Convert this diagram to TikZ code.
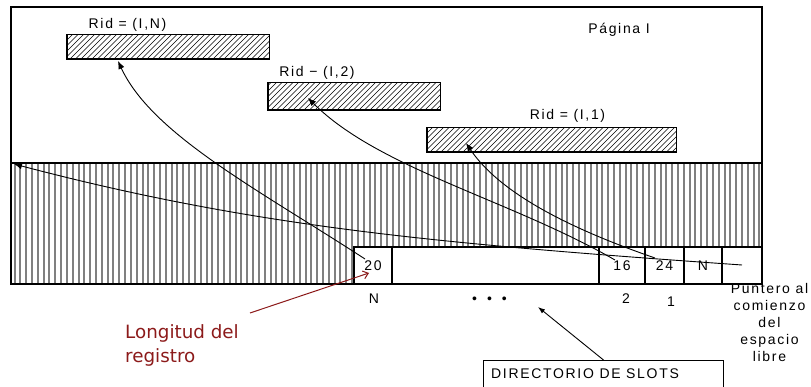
\documentclass[tikz,border=0pt]{standalone}
\usepackage{fontspec}
\usetikzlibrary{arrows.meta,calc}
\newfontfamily\lsf{Liberation Sans}[LetterSpace=12]
\newfontfamily\redf{DejaVu Sans}
\definecolor{regred}{RGB}{140,26,26}
\definecolor{hatchgray}{RGB}{128,128,128}
\tikzset{
  frame/.style={line width=2pt},
  ridbox/.style={draw, line width=1pt, inner sep=0pt},
  slotbox/.style={draw, line width=2pt, fill=white, inner sep=0pt, minimum height=37pt,
    font=\lsf\fontsize{14}{17}\selectfont},
  lbl/.style={inner sep=0pt, font=\lsf\fontsize{14}{17}\selectfont},
  redlbl/.style={inner sep=0pt, text=regred, align=left, font=\redf\fontsize{18.3}{24}\selectfont},
  link/.style={line width=0.9pt, -{Latex[length=8pt,width=6.5pt]}},
  redlink/.style={line width=1pt, draw=regred, -{Straight Barb[length=5pt,width=8pt]}},
  dirlink/.style={line width=0.9pt, -{Latex[length=7pt,width=5pt]}},
}
\begin{document}
\begin{tikzpicture}[x=1pt, y=-1pt]
\useasboundingbox (0,0) rectangle (811,387);

% vertically hatched body of the page
\foreach \i in {0,...,128} {
  \draw[hatchgray, line width=2pt] ({14.5+5.82*\i},163) -- ({14.5+5.82*\i},284);
}

% page frame and header separator
\draw[frame] (11,7) rectangle (762,284);
\draw[frame] (11,163) -- (762,163);

% records
\node[ridbox, minimum width=202pt, minimum height=24pt] (ridN) at (168,47) {};
\node[ridbox, minimum width=172pt, minimum height=27pt] (rid2) at (354,96.5) {};
\node[ridbox, minimum width=249pt, minimum height=24pt] (rid1) at (551.5,140) {};
\foreach \r in {ridN,rid2,rid1} {
  \begin{scope}
    \clip (\r.south west) rectangle (\r.north east);
    \foreach \k in {0,...,60} {
      \draw[line width=0.6pt] ($(\r.south west)+({5.5*\k-30},0)$) -- ++(30,-30);
    }
  \end{scope}
  \draw[line width=1pt] (\r.south west) rectangle (\r.north east);
}

\node[lbl, anchor=base] (lN) at (127.5,29) {Rid = (I,N)};
\node[lbl, anchor=base] (l2) at (317,76.5) {Rid − (I,2)};
\node[lbl, anchor=base] (l1) at (567.5,120) {Rid = (I,1)};
\node[lbl, anchor=base] (pag) at (619,34) {Página I};

% slot directory
\node[slotbox, minimum width=38pt] (s20) at (373,265.5) {20};
\node[slotbox, minimum width=207pt] (sgap) at (495.5,265.5) {};
\node[slotbox, minimum width=46pt] (s16) at (622,265.5) {16};
\node[slotbox, minimum width=39pt] (s24) at (664.5,265.5) {24};
\node[slotbox, minimum width=38pt] (sN) at (703,265.5) {N};
\node[slotbox, minimum width=40pt] (sP) at (742,265.5) {};

\node[lbl, anchor=base] (iN) at (374,303) {N};
\node[lbl, anchor=base] (dots) at (489.5,303) {•\hspace{10pt}•\hspace{10pt}•};
\node[lbl, anchor=base] (i2) at (626,303) {2};
\node[lbl, anchor=base] (i1) at (671,306) {1};
\node[lbl, anchor=north, align=center, font=\lsf\fontsize{14}{17}\selectfont] (ptr) at (769.5,283)
  {Puntero al\\comienzo\\del\\espacio\\libre};

% slot pointers
\coordinate (pN) at (365,259);
\coordinate (p2) at (615,260);
\coordinate (p1) at (655,258);
\coordinate (pF) at (742,265);
\coordinate (tN) at (118,61);
\coordinate (t2) at (308,98);
\coordinate (t1) at (466,143);
\coordinate (tF) at (14,164);
\draw[link] (pN) .. controls (259,190) and (152,134.5) .. (tN);
\draw[link] (p2) .. controls (511,200) and (378.7,168.7) .. (t2);
\draw[link] (p1) .. controls (570,228.7) and (499.7,193.3) .. (t1);
\draw[link] (pF) .. controls (443,244) and (255.5,227.7) .. (tF);

% record length annotation
\node[redlbl, anchor=north west] (lon) at (125,324) {Longitud del\\registro};
\coordinate (lonA) at (250,313);
\coordinate (lonB) at (369,273);
\draw[redlink] (lonA) -- (lonB);

% slot directory caption
\node[draw, line width=1pt, anchor=north west, inner sep=0pt, minimum width=240pt, minimum height=50pt] (dir) at (483,360) {};
\node[lbl, anchor=base west] (dirt) at (491,378) {DIRECTORIO DE SLOTS};
\coordinate (dirT) at (538,307);
\draw[dirlink] (dir.north) -- (dirT);
\end{tikzpicture}
\end{document}
